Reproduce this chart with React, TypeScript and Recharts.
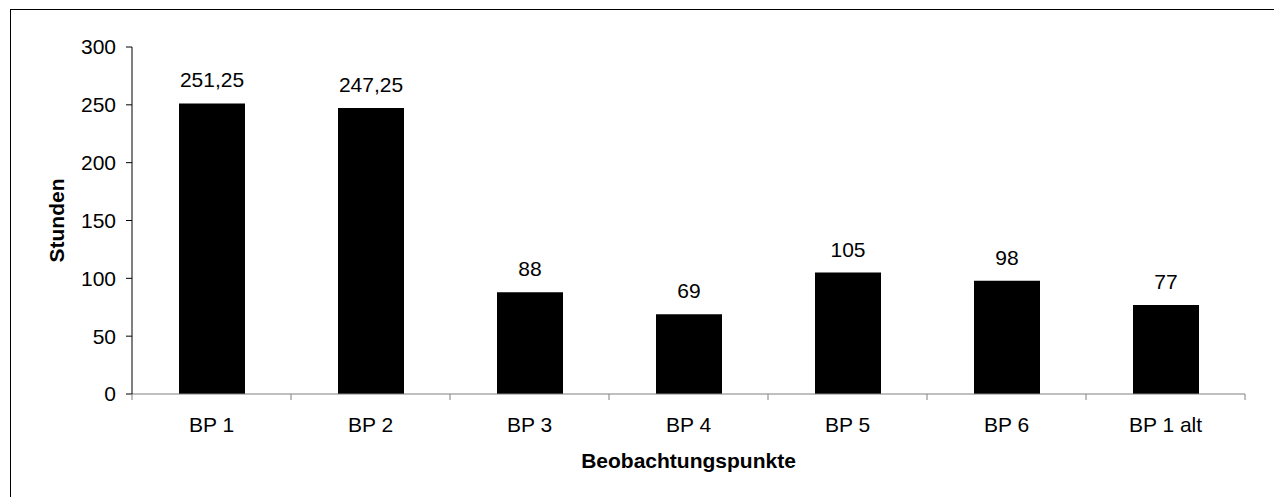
import React from 'react';
import { BarChart, Bar, XAxis, YAxis, LabelList, Label } from 'recharts';

// Observation points and observed hours
const categories = ['BP 1', 'BP 2', 'BP 3', 'BP 4', 'BP 5', 'BP 6', 'BP 1 alt'];
const hours = [251.25, 247.25, 88, 69, 105, 98, 77];
const yTicks = [0, 50, 100, 150, 200, 250, 300];

const data = categories.map((name, i) => ({ name, hours: hours[i] }));

const FONT = 'Arial, "Liberation Sans", sans-serif';
const FS = 21;
const TICK = 6;
const X_TICK_MARGIN = 17;
const AXIS_GRAY = '#808080';

const formatDe = (v: any) => String(v).replace('.', ',');

// Category tick: label centred in the band, tick marks on the band boundaries
function CategoryTick(props: any) {
  const { x, y, payload, width, visibleTicksCount, index } = props;
  let band = 159;
  if (payload && payload.offset) band = payload.offset * 2;
  else if (width && visibleTicksCount) band = width / visibleTicksCount;
  const axisY = y - TICK - X_TICK_MARGIN;
  const left = x - band / 2;
  const right = x + band / 2;
  return (
    <g>
      <line x1={left} x2={left} y1={axisY} y2={axisY + TICK} stroke={AXIS_GRAY} strokeWidth={1} />
      {index === visibleTicksCount - 1 && (
        <line x1={right} x2={right} y1={axisY} y2={axisY + TICK} stroke={AXIS_GRAY} strokeWidth={1} />
      )}
      <text x={x} y={y} dy="0.71em" textAnchor="middle" fill="#000" fontSize={FS} fontFamily={FONT}>
        {payload.value}
      </text>
    </g>
  );
}

// Rotated y-axis title
function HoursTitle(props: any) {
  const vb = props.viewBox || { x: 0, y: 47, width: 132, height: 347 };
  const cx = vb.x + 64;
  const cy = vb.y + vb.height / 2;
  return (
    <text
      x={cx}
      y={cy}
      transform={`rotate(-90 ${cx} ${cy})`}
      textAnchor="middle"
      fill="#000"
      fontSize={FS}
      fontWeight="bold"
      fontFamily={FONT}
    >
      Stunden
    </text>
  );
}

export default function App() {
  return (
    <div style={{ position: 'fixed', left: 0, top: 0, width: 1274, height: 497, background: '#fff' }}>
      <BarChart
        width={1274}
        height={497}
        data={data}
        margin={{ top: 47, right: 29, left: 0, bottom: 0 }}
        style={{ fontFamily: FONT }}
      >
        <XAxis
          dataKey="name"
          height={103}
          axisLine={{ stroke: AXIS_GRAY, strokeWidth: 1 }}
          tickLine={false}
          tickSize={TICK}
          tickMargin={X_TICK_MARGIN}
          interval={0}
          tick={<CategoryTick />}
        >
          <Label
            value="Beobachtungspunkte"
            position="insideBottom"
            offset={29}
            fill="#000"
            fontSize={FS}
            fontWeight="bold"
            fontFamily={FONT}
          />
        </XAxis>
        <YAxis
          width={132}
          domain={[0, 300]}
          ticks={yTicks}
          interval={0}
          axisLine={{ stroke: '#000', strokeWidth: 1 }}
          tickLine={{ stroke: '#000', strokeWidth: 1 }}
          tickSize={TICK}
          tickMargin={10}
          tick={{ fill: '#000', fontSize: FS, fontFamily: FONT }}
        >
          <Label content={<HoursTitle />} />
        </YAxis>
        <Bar dataKey="hours" fill="#000" barSize={66} isAnimationActive={false}>
          <LabelList
            dataKey="hours"
            position="top"
            offset={16}
            formatter={formatDe}
            fill="#000"
            fontSize={FS}
            fontFamily={FONT}
          />
        </Bar>
      </BarChart>
      <div
        style={{
          position: 'absolute',
          left: 10,
          top: 9,
          right: 0,
          bottom: 0,
          borderLeft: '1px solid #000',
          borderTop: '1px solid #000',
          pointerEvents: 'none',
        }}
      />
    </div>
  );
}
